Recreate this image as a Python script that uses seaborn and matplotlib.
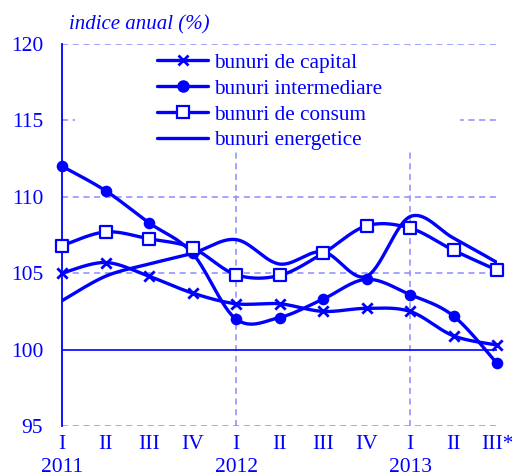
import numpy as np
import pandas as pd
import matplotlib
matplotlib.use("Agg")
import matplotlib.pyplot as plt
from matplotlib.lines import Line2D
from matplotlib.patches import Rectangle
import seaborn as sns

# ---- data ----
quarters = ["I", "II", "III", "IV", "I", "II", "III", "IV", "I", "II", "III*"]
years = {0: "2011", 4: "2012", 8: "2013"}
series_names = ["bunuri de capital", "bunuri intermediare", "bunuri de consum", "bunuri energetice"]
capital = [105.0, 105.7, 104.8, 103.7, 103.0, 103.0, 102.5, 102.7, 102.5, 100.9, 100.3]
intermediare = [112.0, 110.4, 108.3, 106.3, 102.0, 102.1, 103.3, 104.6, 103.6, 102.2, 99.1]
consum = [106.8, 107.7, 107.25, 106.65, 104.9, 104.85, 106.3, 108.1, 107.95, 106.5, 105.2]
energetice = [103.2, 104.8, 105.6, 106.3, 107.2, 105.6, 106.4, 104.8, 108.7, 107.3, 105.7]
yticks = [95, 100, 105, 110, 115, 120]

BLUE = "#0000ff"
GRID = "#8c8cff"

def smooth(xs, ys, n=30):
    """Excel-like smoothed line (cardinal Bezier) through the points."""
    P = np.column_stack([xs, ys]).astype(float)
    m = len(P)
    out = []
    for i in range(m - 1):
        p0 = P[i - 1] if i > 0 else P[i]
        p1 = P[i]
        p2 = P[i + 1]
        p3 = P[i + 2] if i + 2 < m else P[i + 1]
        c1 = p1 + (p2 - p0) / 6.0
        c2 = p2 - (p3 - p1) / 6.0
        t = np.linspace(0, 1, n, endpoint=(i == m - 2))[:, None]
        pts = ((1 - t) ** 3) * p1 + 3 * ((1 - t) ** 2) * t * c1 + 3 * (1 - t) * t ** 2 * c2 + t ** 3 * p2
        out.append(pts)
    return np.vstack(out)

x = np.arange(len(quarters))
values = [capital, intermediare, consum, energetice]

sns.set_style("white")
plt.rcParams["font.family"] = ["Liberation Serif", "DejaVu Serif"]

fig = plt.figure(figsize=(5.12, 4.76), dpi=100)
ax = fig.add_axes([62 / 512, 1 - 426 / 476, (497 - 62) / 512, (426 - 44) / 476])

# smooth lines
rows = []
for name, vals in zip(series_names, values):
    c = smooth(x, vals)
    rows.append(pd.DataFrame({"x": c[:, 0], "y": c[:, 1], "s": name}))
curves = pd.concat(rows, ignore_index=True)
for name in series_names:
    sub = curves[curves.s == name]
    sns.lineplot(data=sub, x="x", y="y", sort=False, estimator=None, color=BLUE, lw=2.4, ax=ax,
                 zorder=4, legend=False)

# markers
pts = pd.DataFrame({"x": np.tile(x, 3), "y": capital + intermediare + consum,
                    "s": np.repeat(series_names[:3], len(x))})
sns.scatterplot(data=pts[pts.s == series_names[0]], x="x", y="y", marker="x", s=55, color=BLUE,
                linewidth=2, ax=ax, zorder=5, clip_on=False, legend=False)
sns.scatterplot(data=pts[pts.s == series_names[1]], x="x", y="y", marker="o", s=70, color=BLUE,
                edgecolor=BLUE, linewidth=0, ax=ax, zorder=5, clip_on=False, legend=False)
sns.scatterplot(data=pts[pts.s == series_names[2]], x="x", y="y", marker="s", s=75, color="white",
                edgecolor=BLUE, linewidth=1.6, ax=ax, zorder=6, clip_on=False, legend=False)

ax.set_xlim(0, len(quarters) - 1)
ax.set_ylim(95, 120)

# grid lines
for yv in [95, 105, 110, 115, 120]:
    ax.axhline(yv, color=GRID, lw=1.1, ls=(0, (4, 3)), zorder=1)
ax.axhline(100, color=BLUE, lw=1.2, zorder=2)
for xv in years:
    if xv > 0:
        ax.axvline(xv, color=GRID, lw=1.1, ls=(0, (4, 3)), zorder=1)

# white legend area covering grid
ax.add_patch(Rectangle(((75 - 62) / 43.5, 113.1), (460 - 75) / 43.5, 6.75, facecolor="white",
                       edgecolor="none", zorder=3))

for s in ["top", "right", "bottom"]:
    ax.spines[s].set_visible(False)
ax.spines["left"].set_color(BLUE)
ax.spines["left"].set_linewidth(1.3)

ax.set_yticks(yticks)
ax.set_yticklabels([str(v) for v in yticks], color=BLUE, fontsize=15.5)
ax.set_xticks(x)
ax.set_xticklabels([q + ("\n" + years[i] if i in years else "") for i, q in enumerate(quarters)],
                   color=BLUE, fontsize=15.5, va="top", linespacing=1.25)
ax.tick_params(axis="both", length=0)
ax.tick_params(axis="y", pad=13.5)
ax.tick_params(axis="x", pad=6.5)
ax.set_xlabel("")
ax.set_ylabel("")

ax.text(0.015, 1.05, "indice anual (%)", transform=ax.transAxes, fontsize=15, style="italic",
        color=BLUE, va="center", ha="left")

handles = [
    Line2D([], [], color=BLUE, lw=2.4, marker="x", ms=7, mew=2),
    Line2D([], [], color=BLUE, lw=2.4, marker="o", ms=8),
    Line2D([], [], color=BLUE, lw=2.4, marker="s", ms=8.5, mfc="white", mec=BLUE, mew=1.6),
    Line2D([], [], color=BLUE, lw=2.4),
]
leg = ax.legend(handles, series_names, loc="upper left",
                bbox_to_anchor=((157 - 62) / 435, (426 - 53) / 382),
                frameon=False, fontsize=15.3, labelcolor=BLUE, handlelength=2.4, handletextpad=0.3,
                labelspacing=0.28, borderaxespad=0, borderpad=0)
leg.set_zorder(7)

fig.savefig("out.png", dpi=100)
